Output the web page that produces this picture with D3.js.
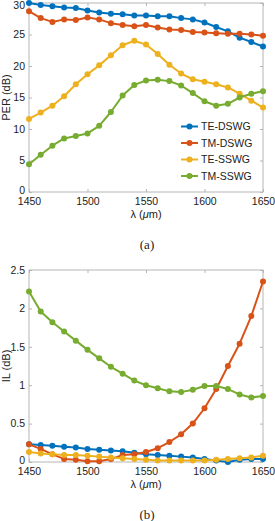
<!DOCTYPE html>
<html>
<head>
<meta charset="utf-8">
<script src="https://cdn.jsdelivr.net/npm/d3@7"></script>
<style>
  body { margin: 0; background: #fff; }
  text { font-family: "Liberation Sans", Arial, sans-serif; fill: #222; }
  .cap { font-family: "Liberation Serif", "Times New Roman", serif; }
</style>
</head>
<body>
<svg id="chart" width="275" height="521"></svg>
<script>
// wavelengths (nm)
const wavelengths = [1450,1460,1470,1480,1490,1500,1510,1520,1530,1540,1550,1560,1570,1580,1590,1600,1610,1620,1630,1640,1650];
const seriesNames = ["TE-DSWG", "TM-DSWG", "TE-SSWG", "TM-SSWG"];
const colors = ["#0072BD", "#D95319", "#EDB120", "#77AC30"];

// (a) PER (dB)
const perTEDSWG = [30.0,29.7,29.5,29.3,29.2,28.8,28.5,28.3,28.2,28.0,28.0,27.9,27.9,27.6,27.4,26.9,26.2,25.5,24.5,23.8,23.1];
const perTMDSWG = [28.7,27.6,27.0,27.4,27.3,27.7,27.4,26.8,26.5,26.3,26.5,26.1,25.8,25.7,25.4,25.3,25.2,25.1,25.1,25.0,24.8];
const perTESSWG = [11.6,12.6,13.7,15.2,17.1,18.7,20.1,21.7,23.3,24.0,23.4,21.9,20.2,18.8,17.9,17.5,17.1,16.6,15.6,14.5,13.4];
const perTMSSWG = [4.4,5.9,7.35,8.5,8.9,9.3,10.5,12.7,15.3,17.0,17.7,17.8,17.6,16.9,15.7,14.4,13.7,14.0,15.0,15.6,16.0];

// (b) IL (dB)
const ilTEDSWG = [0.23,0.22,0.21,0.20,0.19,0.17,0.16,0.15,0.14,0.12,0.10,0.09,0.08,0.07,0.06,0.04,0.02,0.0,0.03,0.04,0.04];
const ilTMDSWG = [0.23,0.17,0.10,0.04,0.03,0.01,0.01,0.04,0.09,0.10,0.13,0.18,0.26,0.36,0.50,0.70,0.95,1.25,1.54,1.90,2.35];
const ilTESSWG = [0.13,0.11,0.10,0.09,0.09,0.08,0.07,0.06,0.05,0.04,0.03,0.02,0.02,0.02,0.02,0.02,0.03,0.04,0.05,0.06,0.08];
const ilTMSSWG = [2.22,1.96,1.82,1.70,1.58,1.46,1.35,1.24,1.15,1.06,1.0,0.96,0.92,0.91,0.94,0.99,0.99,0.95,0.88,0.84,0.86];

const xTicks = [1450,1500,1550,1600,1650];
const perTicks = [0,5,10,15,20,25,30];
const ilTicks = [0,0.5,1,1.5,2,2.5];

const svg = d3.select("#chart");
const axisColor = "#b5b5b5";

function drawPanel(opt) {
  const left = 29, right = 263;
  const x = d3.scaleLinear().domain([1450, 1650]).range([left, right]);
  const y = d3.scaleLinear().domain(opt.yDomain).range([opt.bottom, opt.top]);
  const g = svg.append("g");

  // box with inward ticks
  g.append("rect")
    .attr("x", left).attr("y", opt.top)
    .attr("width", right - left).attr("height", opt.bottom - opt.top)
    .attr("fill", "none").attr("stroke", axisColor).attr("stroke-width", 1);

  const xb = g.append("g").attr("transform", "translate(0," + opt.bottom + ")")
    .call(d3.axisBottom(x).tickValues(xTicks).tickSize(-3).tickPadding(6).tickFormat(d3.format("d")));
  const xt = g.append("g").attr("transform", "translate(0," + opt.top + ")")
    .call(d3.axisTop(x).tickValues(xTicks).tickSize(-3).tickFormat(""));
  const yl = g.append("g").attr("transform", "translate(" + left + ",0)")
    .call(d3.axisLeft(y).tickValues(opt.ticks).tickSize(-3).tickPadding(4).tickFormat(d => d3.format("")(d)));
  const yr = g.append("g").attr("transform", "translate(" + right + ",0)")
    .call(d3.axisRight(y).tickValues(opt.ticks).tickSize(-3).tickFormat(""));
  [xb, xt, yl, yr].forEach(a => {
    a.select(".domain").remove();
    a.selectAll(".tick line").attr("stroke", axisColor);
    a.selectAll(".tick text").attr("font-size", 10.5).attr("fill", "#222")
      .attr("font-family", "Liberation Sans, Arial, sans-serif");
  });
  // lift the bottom "0" a touch so it does not run into the first x label
  yl.selectAll(".tick text").filter(d => d === 0).attr("dy", "0.1em");
  // keep the top label inside the page
  if (opt.top < 8) {
    yl.selectAll(".tick text").filter(d => d === opt.yDomain[1]).attr("dy", "0.5em");
  }

  const line = d3.line().x((d, i) => x(wavelengths[i])).y(d => y(d));
  opt.series.forEach((vals, k) => {
    g.append("path").datum(vals)
      .attr("fill", "none").attr("stroke", colors[k]).attr("stroke-width", 2)
      .attr("stroke-linejoin", "round")
      .attr("d", line);
    g.selectAll(null).data(vals).enter().append("circle")
      .attr("cx", (d, i) => x(wavelengths[i])).attr("cy", d => y(d))
      .attr("r", 3).attr("fill", colors[k]);
  });

  // y label
  g.append("text")
    .attr("transform", "translate(10," + ((opt.top + opt.bottom) / 2) + ") rotate(-90)")
    .attr("text-anchor", "middle").attr("font-size", 11)
    .text(opt.yLabel);

  // x label
  const xl = g.append("text")
    .attr("x", (left + right) / 2).attr("y", opt.bottom + 26)
    .attr("text-anchor", "middle").attr("font-size", 11);
  xl.append("tspan").text("\u03bb (");
  xl.append("tspan").attr("font-style", "italic").text("\u03bc");
  xl.append("tspan").text("m)");

  g.append("text").attr("class", "cap")
    .attr("x", 147).attr("y", opt.bottom + 57)
    .attr("text-anchor", "middle").attr("font-size", 13)
    .text(opt.caption);

  return g;
}

const panelA = drawPanel({
  top: 3, bottom: 192, yDomain: [0, 30], ticks: perTicks, yLabel: "PER (dB)",
  caption: "(a)", series: [perTEDSWG, perTMDSWG, perTESSWG, perTMSSWG]
});

// legend
const legend = panelA.append("g").attr("transform", "translate(181,126.5)");
seriesNames.forEach((name, k) => {
  const row = legend.append("g").attr("transform", "translate(0," + (k * 16.5) + ")");
  row.append("line").attr("x1", 0).attr("x2", 17).attr("y1", 0).attr("y2", 0)
    .attr("stroke", colors[k]).attr("stroke-width", 2);
  row.append("circle").attr("cx", 8.5).attr("cy", 0).attr("r", 3).attr("fill", colors[k]);
  row.append("text").attr("x", 20).attr("y", 3.8).attr("font-size", 10.5).text(name);
});

drawPanel({
  top: 270, bottom: 462, yDomain: [0, 2.5], ticks: ilTicks, yLabel: "IL (dB)",
  caption: "(b)", series: [ilTEDSWG, ilTMDSWG, ilTESSWG, ilTMSSWG]
});
</script>
</body>
</html>
